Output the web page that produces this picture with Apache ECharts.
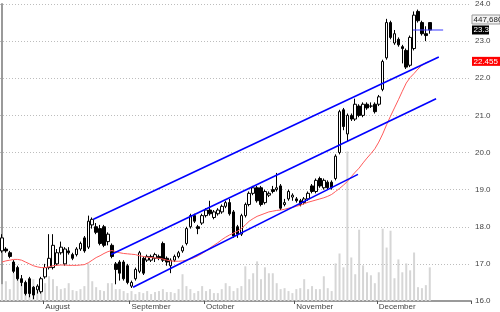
<!DOCTYPE html>
<html><head><meta charset="utf-8">
<script src="https://cdn.jsdelivr.net/npm/echarts@6/dist/echarts.min.js"></script>
<style>html,body{margin:0;padding:0;background:#fff}#c{width:500px;height:312px}</style>
</head><body><div id="c"></div>
<script>
// [open, close, low, high]
const ohlc = [
[17.35,17.7,17.3,17.8],[17.4,17.35,17.3,17.45],[17.3,17.2,17.15,17.35],[17.05,16.8,16.75,17.1],[16.9,16.6,16.55,16.95],
[16.6,16.5,16.4,16.7],[16.5,16.2,16.15,16.55],[16.6,16.2,16.1,16.65],[16.37,16.16,16.05,16.4],[16.3,16.4,16.2,16.45],
[16.25,16.6,16.2,16.65],[16.65,16.9,16.6,17.0],[16.9,17.15,16.85,17.8],[16.9,17.5,16.85,17.8],[17.0,17.3,16.95,17.4],
[17.3,17.45,17.25,17.6],[17.0,17.4,16.95,17.45],[17.35,17.3,17.25,17.45],[17.25,17.15,17.1,17.3],[17.25,17.4,17.2,17.45],
[17.4,17.55,17.35,17.6],[17.7,17.35,17.3,17.75],[17.45,18.15,17.4,18.3],[18.05,18.2,17.95,18.25],[18.0,17.85,17.8,18.1],
[17.95,17.55,17.5,18.05],[18.0,17.5,17.45,18.05],[17.6,17.8,17.5,17.85],[17.5,17.2,17.15,17.55],[17.0,16.85,16.45,17.05],
[17.05,16.75,16.55,17.1],[17.05,16.6,16.55,17.1],[16.95,16.5,16.45,17.0],[16.4,16.5,16.35,16.55],[16.6,16.85,16.55,16.9],
[16.8,17.3,16.75,17.35],[17.15,16.75,16.7,17.2],[17.1,17.2,17.05,17.25],[17.1,17.2,17.05,17.25],[17.15,17.25,17.05,17.3],
[17.2,17.15,17.1,17.25],[17.55,17.1,17.05,17.6],[17.15,17.05,16.95,17.2],[16.95,17.1,16.75,17.15],[17.1,17.2,17.05,17.25],
[17.2,17.3,17.15,17.35],[17.35,17.45,17.3,17.5],[17.55,17.95,17.5,18.0],[18.0,18.3,17.95,18.35],[18.3,18.15,18.1,18.35],
[18.0,17.95,17.8,18.05],[18.1,18.3,18.05,18.35],[18.3,18.45,18.25,18.5],[18.45,18.35,18.3,18.7],[18.25,18.4,18.2,18.45],
[18.35,18.45,18.3,18.5],[18.4,18.55,18.35,18.6],[18.55,18.65,18.5,18.7],[18.65,18.35,18.3,18.75],[18.4,17.75,17.7,18.45],
[18.0,17.8,17.7,18.05],[17.8,18.3,17.75,18.35],[18.3,18.6,18.25,18.65],[18.6,18.9,18.55,18.95],[18.9,19.05,18.85,19.1],
[19.05,18.7,18.65,19.1],[19.05,18.6,18.55,19.1],[18.65,18.95,18.6,19.0],[18.85,18.9,18.8,18.95],[19.0,18.95,18.9,19.1],
[19.0,19.05,18.95,19.45],[19.1,18.5,18.45,19.15],[18.6,18.65,18.55,18.75],[18.75,18.95,18.7,19.0],[18.8,18.85,18.7,18.9],
[18.75,18.7,18.65,18.8],[18.7,18.6,18.55,18.75],[18.65,18.75,18.6,18.8],[18.75,18.9,18.7,18.95],[19.1,18.95,18.9,19.15],
[18.95,19.25,18.9,19.3],[19.3,19.1,19.05,19.35],[19.05,19.25,19.0,19.3],[19.2,19.05,19.0,19.25],[19.2,19.05,19.0,19.25],
[19.3,19.9,19.25,19.95],[20.0,21.1,19.95,21.15],[21.15,20.7,20.6,21.2],[20.5,21.0,20.3,21.05],[21.0,20.9,20.85,21.05],
[20.9,21.3,20.85,21.45],[21.25,21.0,20.95,21.3],[21.0,21.3,20.95,21.35],[21.3,21.2,21.15,21.35],[21.25,21.25,21.2,21.35],
[21.3,21.1,21.05,21.35],[21.3,21.5,21.25,21.55],[21.7,22.45,21.65,22.5],[22.55,23.5,22.5,23.6],[23.5,23.1,23.05,23.55],
[22.95,23.2,22.9,23.3],[23.05,22.9,22.85,23.1],[22.85,22.8,22.4,22.9],[22.75,22.3,22.25,22.8],[22.35,23.1,22.3,23.15],
[22.8,23.7,22.75,23.8],[23.8,23.55,23.5,23.85],[23.5,23.2,23.15,23.55],[23.2,23.15,23.0,23.4],[23.5,23.3,23.2,23.5]
];
const movingAvg = [
17.05,17.08,17.1,17.12,17.12,17.1,17.05,17.0,16.95,16.92,
16.9,16.9,16.92,16.95,16.96,16.97,16.97,16.96,16.96,16.96,
16.97,16.98,17.03,17.1,17.17,17.22,17.28,17.33,17.36,17.33,
17.3,17.28,17.27,17.26,17.25,17.22,17.2,17.18,17.17,17.16,
17.15,17.13,17.1,17.08,17.07,17.07,17.08,17.1,17.13,17.17,
17.22,17.28,17.35,17.43,17.5,17.57,17.65,17.72,17.78,17.83,
17.88,17.95,18.05,18.15,18.22,18.28,18.32,18.36,18.4,18.42,
18.44,18.45,18.47,18.5,18.52,18.55,18.58,18.62,18.66,18.69,
18.72,18.75,18.78,18.82,18.87,18.95,19.03,19.12,19.22,19.35,
19.47,19.58,19.72,19.85,19.97,20.1,20.28,20.5,20.75,20.98,
21.2,21.42,21.65,21.87,22.02,22.13,22.25,22.35,22.42,22.455
];
// volume, thousands of shares
const volume = [
224,263,158,369,329,290,237,224,290,132,
263,237,329,290,198,158,171,237,145,132,
158,198,500,263,184,145,132,237,237,158,
158,132,105,132,92,119,105,132,92,119,
132,158,119,119,105,158,356,198,158,105,
132,198,132,158,105,105,158,237,198,132,
171,198,461,290,369,527,290,448,369,369,
237,158,171,132,105,158,171,290,158,198,
158,158,329,171,132,500,632,448,1989,579,
356,948,474,382,342,237,382,961,711,935,
303,553,382,500,408,645,184,171,211,447.68
];
const monthLabels = ['August','September','October','November','December'];
const monthStarts = [11,33,52,75,96];
const slotCount = 120;
const priceMin = 16, priceMax = 24, priceStep = 1;
const volumeMax = 3950;
// trend channel lines: [[slot, price],[slot, price]]
const channelLines = [
  [[23.3,18.2],[111.3,22.57]],
  [[27.8,17.25],[110.6,21.45]],
  [[33.4,16.37],[90.7,19.41]]
];
const lastPriceLine = [[104.7,23.3],[112.4,23.3]];
const lastVolumeText = '447,680';
const lastPrice = 23.3;
const lastMA = 22.455;

const categories = [];
for (let i = 0; i < slotCount; i++) {
  const k = monthStarts.indexOf(i);
  categories.push(k >= 0 ? monthLabels[k] : String(i));
}
const isMonth = (idx) => monthStarts.indexOf(idx) >= 0;
const FONT = 'Liberation Sans';

const chart = echarts.init(document.getElementById('c'), null, {renderer:'canvas'});
const lineSeries = channelLines.map(seg => ({
  type:'line', xAxisIndex:1, yAxisIndex:0, data:seg, showSymbol:false, silent:true,
  lineStyle:{color:'#0000ff', width:1.6}, z:5, animation:false
}));
chart.setOption({
  animation:false,
  grid:{left:0, right:29, top:1, bottom:11, containLabel:false},
  xAxis:[
    {type:'category', data:categories, boundaryGap:true,
     axisLine:{show:true, lineStyle:{color:'#9a9a9a', width:2}},
     axisTick:{show:true, interval:(i)=>isMonth(i), length:3, lineStyle:{color:'#555'}},
     axisLabel:{interval:(i)=>isMonth(i), align:'left', margin:2, fontSize:8, fontFamily:FONT, color:'#444'},
     splitLine:{show:false}},
    {type:'value', min:-0.5, max:slotCount-0.5, show:false}
  ],
  yAxis:[
    {type:'value', position:'right', min:priceMin, max:priceMax, interval:priceStep,
     axisLine:{show:true, lineStyle:{color:'#9a9a9a', width:2}},
     axisTick:{show:false},
     axisLabel:{margin:4, fontSize:8, fontFamily:FONT, color:'#444', formatter:(v)=>v.toFixed(1)},
     splitLine:{show:true, lineStyle:{type:[1,2], color:'#bdbdbd', width:1}}},
    {type:'value', min:0, max:volumeMax, show:false, splitLine:{show:false}}
  ],
  series:[
    {type:'bar', xAxisIndex:0, yAxisIndex:1, data:volume, barWidth:2, silent:true,
     itemStyle:{color:'#d6d6d6'}, z:1},
    {type:'candlestick', xAxisIndex:0, yAxisIndex:0, data:ohlc, barWidth:3, silent:true,
     itemStyle:{color:'#ffffff', color0:'#000000', borderColor:'#000000', borderColor0:'#000000', borderWidth:1}, z:3},
    {type:'line', xAxisIndex:0, yAxisIndex:0, data:movingAvg, showSymbol:false, silent:true,
     lineStyle:{color:'#ff5a5a', width:1}, z:4},
    ...lineSeries,
    {type:'line', xAxisIndex:1, yAxisIndex:0, data:lastPriceLine, showSymbol:false, silent:true,
     lineStyle:{color:'#3a3aff', width:1.2}, z:5}
  ]
});

const axisX = chart.convertToPixel({xAxisIndex:1}, slotCount-0.5) + 1;
const yPrice = chart.convertToPixel({yAxisIndex:0}, lastPrice);
const yMA = chart.convertToPixel({yAxisIndex:0}, lastMA);
function box(text, y, bg, fg, border, w) {
  return {type:'group', x:axisX, y:y-4.5, z:100, children:[
    {type:'rect', shape:{x:0, y:0, width:w, height:9}, style:{fill:bg, stroke:border, lineWidth:border?1:0}},
    {type:'text', x:1.5, y:4.8, style:{text:text, fill:fg, font:'8px '+FONT, verticalAlign:'middle', align:'left'}}
  ]};
}
chart.setOption({graphic:[
  box(lastVolumeText, yPrice-10.5, '#f2f2f2', '#222', '#999', 28),
  box(lastPrice.toFixed(1), yPrice, '#000', '#fff', null, 17),
  box(lastMA.toFixed(3), yMA, '#ff0000', '#fff', null, 28)
]});
</script></body></html>
